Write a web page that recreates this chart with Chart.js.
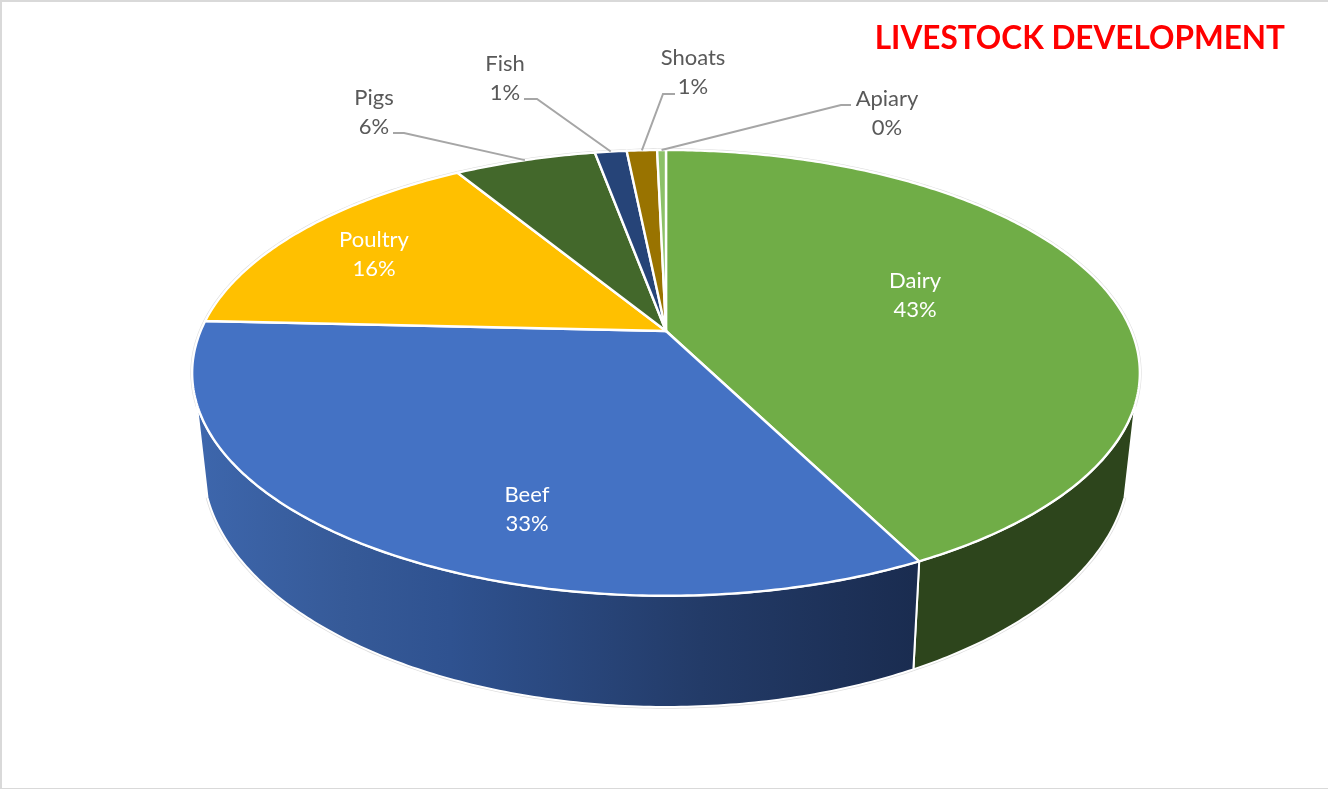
<!DOCTYPE html>
<html>
<head>
<meta charset="utf-8">
<title>Livestock Development</title>
<script src="https://cdn.jsdelivr.net/npm/chart.js@4"></script>
<style>
  html, body { margin: 0; padding: 0; background: #fff; }
  canvas { display: block; }
</style>
</head>
<body>
<canvas id="pieChart" width="1328" height="789"></canvas>
<script>
const categories = ['Dairy', 'Beef', 'Poultry', 'Pigs', 'Fish', 'Shoats', 'Apiary'];
const shares = [42.52, 33.23, 15.55, 5.8, 1.3, 1.24, 0.36];
const sliceColors = ['#70AD47', '#4472C4', '#FFC000', '#43682B', '#264478', '#997300', '#8CC168'];
const chartTitle = 'LIVESTOCK DEVELOPMENT';

// label centres, plus the elbow of the leader line for the ones outside the pie
const labelPlaces = [
  { x: 915, y: 295, color: '#fff' },
  { x: 527, y: 509, color: '#fff' },
  { x: 374, y: 254, color: '#fff' },
  { x: 374, y: 112, color: '#595959', from: [393, 133], elbow: [404, 133] },
  { x: 505, y: 78, color: '#595959', from: [524, 99], elbow: [537, 99] },
  { x: 693, y: 72, color: '#595959', from: [675, 94], elbow: [663, 94] },
  { x: 887, y: 113, color: '#595959', from: [851, 105], elbow: [841, 105] }
];

// the pie is seen in perspective, so each face is a projected circle
const topFace = { x: 666, y: 331, a: 465.4, b: 215, k: -0.188 };
const lowFace = { x: 666, y: 418.3, a: 454.7, b: 234.4, k: -0.188 };
const wallFrom = 108.5 * Math.PI / 180;
const wallTo = 251.5 * Math.PI / 180;

function project(face, theta) {
  const u = Math.sin(theta);
  const v = -Math.cos(theta);
  const w = 1 + face.k * v;
  return [face.x + face.a * u / w, face.y + face.b * v / w];
}

// walk along the rim, the library angle starts at -90deg so shift it to 0 at the top
function traceRim(ctx, face, start, end, first) {
  const steps = Math.max(2, Math.ceil(Math.abs(end - start) * 90));
  for (let i = 0; i <= steps; i++) {
    const p = project(face, start + (end - start) * i / steps);
    if (i === 0 && first) ctx.moveTo(p[0], p[1]);
    else ctx.lineTo(p[0], p[1]);
  }
}

function wallPaint(ctx, index) {
  if (index === 0) return '#2D451C';
  const g = ctx.createLinearGradient(200, 0, 915, 0);
  g.addColorStop(0, '#3D66AC');
  g.addColorStop(0.2, '#365A98');
  g.addColorStop(0.35, '#2F5290');
  g.addColorStop(0.7, '#233B68');
  g.addColorStop(1, '#1A2C50');
  return g;
}

const pie3d = {
  id: 'pie3d',
  beforeDraw(chart) {
    const ctx = chart.ctx;
    ctx.save();
    ctx.fillStyle = '#fff';
    ctx.fillRect(0, 0, chart.width, chart.height);
    ctx.fillStyle = '#D9D9D9';
    ctx.fillRect(0, 0, chart.width, 2);
    ctx.fillRect(0, 0, 2, chart.height);
    ctx.fillRect(0, chart.height - 1, chart.width, 1);
    ctx.restore();
  },
  beforeDatasetDraw(chart, args) {
    const ctx = chart.ctx;
    const arcs = args.meta.data;
    const turn = Math.PI / 2;
    ctx.save();
    ctx.lineJoin = 'round';

    // faint outline that shows round the white edge
    ctx.beginPath();
    traceRim(ctx, topFace, 0, Math.PI * 2, true);
    ctx.strokeStyle = '#DDDDDD';
    ctx.lineWidth = 3.5;
    ctx.stroke();
    ctx.beginPath();
    traceRim(ctx, lowFace, wallFrom, wallTo, true);
    ctx.stroke();

    // side walls
    arcs.forEach((arc, i) => {
      const start = Math.max(arc.startAngle + turn, wallFrom);
      const end = Math.min(arc.endAngle + turn, wallTo);
      if (end <= start) return;
      ctx.beginPath();
      traceRim(ctx, topFace, start, end, true);
      traceRim(ctx, lowFace, end, start, false);
      ctx.closePath();
      ctx.fillStyle = wallPaint(ctx, i);
      ctx.fill();
      ctx.strokeStyle = '#fff';
      ctx.lineWidth = 2;
      ctx.stroke();
    });

    // top slices
    arcs.forEach((arc, i) => {
      ctx.beginPath();
      ctx.moveTo(topFace.x, topFace.y);
      traceRim(ctx, topFace, arc.startAngle + turn, arc.endAngle + turn, false);
      ctx.closePath();
      ctx.fillStyle = sliceColors[i];
      ctx.fill();
      ctx.strokeStyle = '#fff';
      ctx.lineWidth = 2.4;
      ctx.stroke();
    });
    ctx.restore();

    drawLabels(chart, arcs, turn);
    return false;
  }
};

function drawLabels(chart, arcs, turn) {
  const ctx = chart.ctx;
  const total = shares.reduce((a, b) => a + b, 0);
  ctx.save();
  ctx.font = '22px Lato';
  ctx.textAlign = 'center';
  ctx.textBaseline = 'middle';
  labelPlaces.forEach((place, i) => {
    if (place.from) {
      const mid = (arcs[i].startAngle + arcs[i].endAngle) / 2 + turn;
      const tip = project(topFace, mid);
      ctx.beginPath();
      ctx.moveTo(place.from[0], place.from[1]);
      ctx.lineTo(place.elbow[0], place.elbow[1]);
      ctx.lineTo(tip[0], tip[1]);
      ctx.strokeStyle = '#A6A6A6';
      ctx.lineWidth = 2;
      ctx.stroke();
    }
    ctx.fillStyle = place.color;
    ctx.fillText(categories[i], place.x, place.y - 14);
    ctx.fillText(Math.round(shares[i] / total * 100) + '%', place.x, place.y + 15);
  });
  ctx.restore();
}

new Chart(document.getElementById('pieChart'), {
  type: 'pie',
  data: {
    labels: categories,
    datasets: [{
      data: shares,
      backgroundColor: sliceColors,
      borderColor: '#fff',
      borderWidth: 2
    }]
  },
  options: {
    responsive: false,
    animation: false,
    layout: { padding: { right: 43 } },
    plugins: {
      legend: { display: false },
      tooltip: { enabled: false },
      title: {
        display: true,
        text: chartTitle,
        align: 'end',
        color: '#FF0000',
        font: { family: 'Lato', size: 31.5, weight: 'bold' },
        padding: { top: 20, bottom: 10 }
      }
    }
  },
  plugins: [pie3d]
});
</script>
</body>
</html>
